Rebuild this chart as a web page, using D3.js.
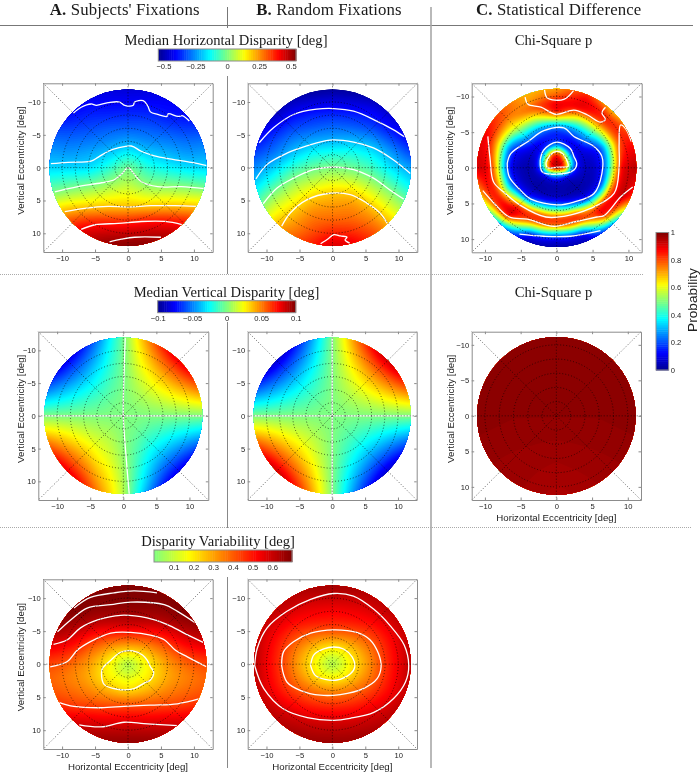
<!DOCTYPE html>
<html>
<head>
<meta charset="utf-8">
<script src="https://d3js.org/d3.v7.min.js"></script>
<style>
html, body { margin: 0; padding: 0; background: #fff; }
svg { display: block; filter: blur(0.35px); }
</style>
</head>
<body>
<svg id="chart" width="700" height="772"></svg>
<script>
// tick labels
var axisTicks = [-10, -5, 0, 5, 10];
var hBarTicks = [-0.5, -0.25, 0, 0.25, 0.5];
var vBarTicks = [-0.1, -0.05, 0, 0.05, 0.1];
var sBarTicks = [0.1, 0.2, 0.3, 0.4, 0.5, 0.6];
var pBarTicks = [0, 0.2, 0.4, 0.6, 0.8, 1];
var ringRadii = [2, 4, 6, 8, 10];
var spokeAngles = [0, 45, 90, 135];

// grid positions of the read-off maps, in deg
var step3 = [-12, -9, -6, -3, 0, 3, 6, 9, 12];
var step2 = [-12, -10, -8, -6, -4, -2, 0, 2, 4, 6, 8, 10, 12];
var chiRadii = [0, 1, 2, 3, 4, 5, 6, 7, 8, 9, 10, 11, 12];

// median horizontal disparity, one array per column of step3, rows are step2
var hSubjects = [
  [-.45,-.43,-.41,-.34,-.28,-.23,-.18,-.09,0,.13,.27,.41,.5],
  [-.45,-.42,-.4,-.34,-.29,-.24,-.18,-.07,.04,.18,.32,.43,.5],
  [-.45,-.41,-.37,-.33,-.28,-.22,-.18,-.05,.07,.19,.36,.46,.5],
  [-.45,-.41,-.37,-.31,-.26,-.19,-.1,0,.1,.2,.36,.47,.53],
  [-.46,-.41,-.36,-.31,-.23,-.12,0,.05,.12,.2,.36,.47,.54],
  [-.45,-.41,-.36,-.31,-.26,-.18,-.1,-.02,.08,.2,.39,.48,.54],
  [-.45,-.41,-.39,-.33,-.27,-.21,-.14,-.03,.08,.21,.39,.48,.53],
  [-.45,-.42,-.4,-.35,-.29,-.24,-.17,-.05,.07,.21,.37,.46,.52],
  [-.45,-.42,-.39,-.34,-.28,-.23,-.18,-.08,.05,.2,.33,.44,.51]
];
var hRandom = [
  [-.56,-.54,-.5,-.46,-.41,-.33,-.27,-.21,-.13,-.04,.05,.15,.25],
  [-.58,-.54,-.49,-.4,-.33,-.28,-.19,-.1,.01,.09,.17,.27,.37],
  [-.55,-.48,-.4,-.33,-.26,-.19,-.08,.02,.09,.17,.23,.28,.35],
  [-.54,-.45,-.37,-.31,-.22,-.12,-.02,.06,.17,.24,.29,.33,.39],
  [-.53,-.44,-.36,-.29,-.21,-.1,0,.1,.2,.25,.3,.38,.46],
  [-.54,-.45,-.37,-.3,-.2,-.1,-.02,.08,.2,.26,.3,.37,.44],
  [-.55,-.47,-.39,-.33,-.23,-.14,-.07,.02,.11,.2,.27,.33,.38],
  [-.57,-.52,-.46,-.4,-.32,-.23,-.17,-.08,.02,.09,.18,.26,.33],
  [-.58,-.55,-.5,-.46,-.41,-.33,-.24,-.18,-.1,0,.07,.14,.25]
];

// median vertical disparity, one array per column of step2, rows are step2
var vSubjects = [
  [-.1,-.1,-.1,-.079,-.053,-.026,0,.026,.053,.079,.1,.1,.1],
  [-.1,-.1,-.088,-.066,-.044,-.022,0,.022,.044,.066,.088,.1,.1],
  [-.1,-.088,-.07,-.053,-.035,-.018,0,.018,.035,.053,.07,.088,.1],
  [-.079,-.066,-.053,-.04,-.026,-.013,0,.013,.026,.04,.053,.066,.079],
  [-.053,-.044,-.035,-.026,-.018,-.009,0,.009,.018,.026,.035,.044,.053],
  [-.026,-.022,-.018,-.013,-.009,-.004,0,.006,.012,.017,.023,.028,.032],
  [-.003,-.003,-.002,-.002,-.001,0,0,.001,.002,.004,.007,.01,.012],
  [.026,.022,.018,.013,.009,.004,0,-.003,-.007,-.01,-.013,-.016,-.02],
  [.053,.044,.035,.026,.018,.009,0,-.009,-.018,-.026,-.033,-.04,-.05],
  [.079,.066,.053,.04,.026,.013,0,-.013,-.026,-.04,-.053,-.066,-.079],
  [.1,.088,.07,.053,.035,.018,0,-.018,-.035,-.053,-.07,-.088,-.1],
  [.1,.1,.088,.066,.044,.022,0,-.022,-.044,-.066,-.088,-.1,-.1],
  [.1,.1,.1,.079,.053,.026,0,-.026,-.053,-.079,-.1,-.1,-.1]
];
var vRandom = [
  [-.1,-.1,-.1,-.085,-.057,-.028,0,.028,.057,.085,.1,.1,.1],
  [-.1,-.1,-.095,-.071,-.048,-.024,0,.024,.048,.071,.095,.1,.1],
  [-.1,-.095,-.076,-.057,-.038,-.019,0,.019,.038,.057,.076,.095,.1],
  [-.085,-.071,-.057,-.043,-.028,-.014,0,.014,.028,.043,.057,.071,.085],
  [-.057,-.048,-.038,-.028,-.019,-.01,0,.01,.019,.028,.038,.048,.057],
  [-.028,-.024,-.019,-.014,-.01,-.005,0,.005,.01,.014,.019,.024,.028],
  [0,0,0,0,0,0,0,0,0,0,0,0,0],
  [.028,.024,.019,.014,.01,.005,0,-.005,-.01,-.014,-.019,-.024,-.028],
  [.057,.048,.038,.028,.019,.01,0,-.01,-.019,-.028,-.038,-.048,-.057],
  [.085,.071,.057,.043,.028,.014,0,-.014,-.028,-.043,-.057,-.071,-.085],
  [.1,.095,.076,.057,.038,.019,0,-.019,-.038,-.057,-.076,-.095,-.1],
  [.1,.1,.095,.071,.048,.024,0,-.024,-.048,-.071,-.095,-.1,-.1],
  [.1,.1,.1,.085,.057,.028,0,-.028,-.057,-.085,-.1,-.1,-.1]
];

// disparity variability, one array per column of step2, rows are step2
var sSubjects = [
  [.7,.7,.7,.68,.62,.52,.43,.39,.41,.47,.56,.66,.7],
  [.7,.7,.7,.67,.6,.5,.41,.36,.39,.45,.55,.65,.7],
  [.7,.7,.7,.65,.56,.46,.36,.33,.37,.43,.54,.63,.69],
  [.7,.7,.68,.62,.5,.38,.31,.29,.34,.42,.54,.62,.68],
  [.7,.7,.67,.6,.45,.32,.22,.21,.3,.41,.53,.62,.68],
  [.7,.7,.67,.6,.43,.24,.13,.17,.25,.41,.53,.62,.68],
  [.7,.7,.67,.6,.42,.22,.02,.13,.21,.41,.53,.62,.68],
  [.7,.7,.67,.6,.43,.24,.13,.17,.25,.41,.53,.62,.68],
  [.7,.7,.67,.6,.45,.32,.22,.22,.3,.41,.53,.62,.68],
  [.7,.7,.68,.62,.5,.38,.31,.29,.34,.42,.54,.62,.68],
  [.7,.7,.7,.65,.56,.46,.36,.33,.37,.43,.54,.63,.69],
  [.7,.7,.7,.67,.6,.5,.41,.36,.39,.45,.55,.65,.7],
  [.7,.7,.7,.68,.62,.52,.43,.39,.41,.47,.56,.66,.7]
];
var sRandom = [
  [.7,.68,.66,.64,.63,.63,.63,.63,.63,.64,.66,.67,.68],
  [.69,.66,.63,.6,.56,.55,.54,.55,.56,.6,.64,.66,.68],
  [.68,.64,.6,.55,.5,.47,.46,.47,.5,.56,.61,.65,.68],
  [.67,.62,.57,.51,.43,.37,.34,.37,.44,.52,.59,.64,.68],
  [.66,.6,.55,.49,.38,.28,.24,.29,.39,.48,.57,.63,.67],
  [.66,.6,.54,.48,.34,.2,.13,.2,.35,.46,.56,.62,.67],
  [.66,.6,.53,.48,.33,.14,.02,.17,.33,.45,.56,.62,.67],
  [.66,.6,.54,.48,.34,.2,.13,.2,.35,.46,.56,.62,.67],
  [.66,.6,.55,.49,.38,.28,.24,.29,.39,.48,.57,.63,.67],
  [.67,.62,.57,.51,.43,.37,.34,.37,.44,.52,.59,.64,.68],
  [.68,.64,.6,.55,.5,.47,.46,.47,.5,.56,.61,.65,.68],
  [.69,.66,.63,.6,.56,.55,.54,.55,.56,.6,.64,.66,.68],
  [.7,.68,.66,.64,.63,.63,.63,.63,.63,.64,.66,.67,.68]
];

// chi-square p on rings: one array per 22.5 deg, clockwise from +x, over chiRadii
var chiHorizontal = [
  [.95,.9,.3,.1,.05,.05,.1,.3,.6,.9,.92,.95,.95],
  [.95,.8,.15,.06,.04,.04,.08,.3,.75,.9,.95,.85,.8],
  [.95,.35,.05,.03,.02,.04,.12,.5,.85,.92,.7,.3,.15],
  [.95,.3,.05,.03,.03,.1,.4,.82,.85,.45,.12,.05,.03],
  [.95,.3,.05,.03,.05,.18,.5,.82,.82,.4,.1,.03,.02],
  [.95,.3,.05,.03,.03,.15,.45,.82,.85,.5,.15,.05,.03],
  [.95,.4,.06,.03,.02,.08,.2,.7,.9,.95,.75,.35,.2],
  [.95,.65,.1,.04,.03,.05,.12,.3,.6,.85,.85,.7,.6],
  [.95,.9,.3,.05,.03,.04,.07,.2,.55,.82,.92,.92,.9],
  [.95,.9,.4,.08,.05,.08,.12,.22,.45,.7,.85,.9,.9],
  [.95,.93,.55,.14,.08,.18,.3,.45,.6,.7,.78,.8,.8],
  [.95,.95,.8,.2,.12,.18,.3,.5,.68,.8,.72,.7,.7],
  [.95,.95,.87,.3,.15,.15,.3,.65,.9,.9,.8,.72,.7],
  [.95,.95,.75,.2,.1,.18,.3,.5,.7,.9,.9,.85,.8],
  [.95,.93,.5,.14,.08,.2,.3,.45,.65,.82,.85,.7,.6],
  [.95,.9,.45,.1,.07,.08,.12,.25,.5,.75,.85,.85,.8]
];
// rows and columns of coarseStep
var coarseStep = [-12, -6, 0, 6, 12];
var chiVertical = [
  [.99,.99,.99,.98,.975],
  [.99,.99,.985,.975,.97],
  [.99,.99,.985,.97,.955],
  [.99,.99,.985,.975,.965],
  [.99,.99,.99,.98,.975]
];

// white contour lines, [x, y] in deg
var hSubjectsLines = [
  [[-8.3,-8.3],[-7.1,-9.2],[-5.6,-9.7],[-4.8,-9.5],[-3,-9.9],[-1.3,-10],[-.5,-9.5],[.8,-9.5],[1,-10],[2.3,-10.2],[3,-9.4],[3.4,-8.5],[4.5,-8.1],[5.9,-7.8],[6.1,-8.2],[7.6,-7.8],[8.3,-7.9],[9.3,-7.1]],
  [[-11.7,-.6],[-9.1,-.8],[-5.6,-1],[-4.5,-1.6],[-3,-2.5],[-1.5,-3],[.5,-3.3],[2,-2.5],[4,-1.8],[6.6,-1.3],[9.6,-.8],[12,-.3]],
  [[-11.1,3.7],[-7.6,2.9],[-4,2.3],[-2,1.8],[-.8,.8],[0,0],[.8,.8],[2,2.1],[4.5,2.9],[8.1,2.9],[11.6,3.2]],
  [[-9.6,6.7],[-6.6,6.2],[-3,5.9],[0,6],[3.5,5.8],[7.1,5.8],[10.4,5.9]],
  [[-7.1,9.4],[-5,8.7],[-1.5,8.5],[2,8.2],[5.6,8.2],[8.3,8.7]],
  [[-2.8,11.3],[-1,10.9],[1,10.6],[5,10.6]]
];
var hRandomLines = [
  [[-11.1,-3.8],[-8.9,-6.1],[-5.9,-8.1],[-2.4,-8.9],[.2,-9],[3.2,-8.6],[6.7,-7.1],[9.2,-5.8],[10.9,-4.7]],
  [[-11.6,1.7],[-9.9,-.5],[-6.9,-2.2],[-3.9,-3.3],[-.4,-4.2],[3.2,-3.9],[6.2,-3],[9.2,-1.2],[11.8,.9]],
  [[-10.5,5.5],[-8.4,3.1],[-5.9,1.6],[-2.9,.3],[.2,-.1],[3.2,.3],[6.2,1.6],[8.7,3.4],[10.8,4.8]],
  [[-7.7,8.9],[-6.4,6.9],[-3.9,4.9],[-.4,3.9],[2.7,4.1],[5.2,5.4],[7.2,6.9],[8.3,8.5]],
  [[-1.8,11.6],[-.6,10.8],[.2,10.2],[1.2,10.4],[2.2,10.6],[1.9,11],[2.6,11.5]]
];
var vSubjectsLines = [
  [[.3,-12],[.1,-6],[0,0],[.4,6],[.9,12]],
  [[-12,0],[12,0]]
];
var vRandomLines = [
  [[0,-12],[0,12]],
  [[-12,0],[12,0]]
];
var sSubjectsLines = [
  [[-4,1.9],[-3.9,.7],[-2.6,-.6],[-1.1,-1.8],[.7,-2],[2.2,-1.4],[2.9,-.6],[3.4,.4],[3.9,1.2],[3.4,2.4],[2.4,2.9],[.9,3.7],[-1.6,3.8],[-3.6,3.1],[-4,1.9]],
  [[-11.8,.4],[-9.2,-.4],[-7.7,-2.1],[-5.7,-3.4],[-2.6,-4.7],[.4,-4.8],[3.4,-4.4],[5.5,-3.7],[7.2,-2.1],[9,-1.1],[11.9,.4]],
  [[-11.3,-3],[-9.2,-3.7],[-7.2,-5.5],[-4.6,-6.7],[-1.1,-7.4],[2.9,-7],[6,-6],[8.5,-4.7],[11.4,-3.3]],
  [[-10.7,-4.9],[-8.7,-6.7],[-6.2,-8.5],[-2.6,-9],[.4,-9.4],[5.5,-9],[7.5,-8],[10.3,-6.2]],
  [[-8.2,-8.5],[-5.7,-10.1],[-2.1,-10.8],[.9,-11.1],[4.4,-10.8]],
  [[-10.7,5.7],[-8.2,6.4],[-4.1,6.6],[-.6,6.4],[3.4,6.2],[7.5,6],[11,5.2]],
  [[-7.4,9.2],[-4.1,9.5],[-.6,8.8],[2.4,9],[5.5,9.2],[7.5,9.3]]
];
var sRandomLines = [
  [[-11.8,.2],[-11.4,-2.4],[-9.9,-5.5],[-6.9,-8],[-3.3,-9.8],[.2,-10.7],[3.2,-10.3],[6.3,-8.3],[8.8,-5.8],[10.9,-2.9],[11.6,.2],[11.1,2.7],[9.3,5.2],[6.3,7.3],[2.7,8.2],[.2,8.5],[-3.8,8.1],[-7.4,6.8],[-10.4,3.7],[-11.8,.2]],
  [[-7.7,.2],[-7.4,-1.9],[-5.9,-3.4],[-3.3,-4.7],[.2,-5.2],[3.7,-4.8],[5.7,-3.7],[7,-1.6],[7.4,.4],[6.8,2.2],[4.7,3.7],[1.2,4.6],[-1.8,4.7],[-4.8,4],[-6.9,2.7],[-7.7,.2]],
  [[-3.3,.2],[-2.8,-1.4],[-1.3,-2.3],[.2,-2.6],[1.7,-2.3],[3,-1.1],[3.4,.4],[2.7,1.5],[.7,2.4],[-1.1,2.3],[-2.6,1.7],[-3.3,.2]]
];
var chiLines = [
  [[-1.5,-.7],[-.9,-1.8],[0,-2.3],[.8,-2],[1.5,-.8],[1.6,-.2],[.1,-.1],[-1.3,0],[-1.5,-.7]],
  [[-2.3,-1.1],[-1.8,-2.5],[0,-3.6],[1.9,-2.7],[2.4,-1.6],[2.8,-.6],[2.4,.3],[.1,.9],[-2,.6],[-2.3,-1.1]],
  [[-6.9,-.6],[-6.4,-2],[-4,-3.7],[-1.8,-5.2],[1,-5.6],[2.4,-4.4],[5.2,-3],[6.3,-1.6],[6.3,.8],[5.2,3.6],[2.4,4.8],[.1,5.2],[-3.6,4.4],[-5,3.2],[-6.6,1.3],[-6.9,-.6]],
  [[-9.6,-4.4],[-9.3,-1.4],[-8.8,2],[-7.4,3.4],[-5,5.3],[-1.5,6.9],[1,6.8],[4.7,5.7],[8,3.6],[8.7,-.1],[8.7,-3.3],[8.9,-6],[9.6,-5.5],[10.4,-3.7]],
  [[-10.3,3.2],[-8.7,5],[-6.6,6.9],[-4.1,7.2],[-.4,8.2],[2.4,7.6],[5.6,6.9],[6.6,6.7],[8.9,4.1],[10.6,2.7]],
  [[-5.2,9.3],[-1.8,9.6],[1.9,9.6],[6.1,8.8]],
  [[-4.4,-9.9],[-4,-8.9],[-2.2,-8.5],[-.1,-7.5],[2.4,-8.1],[4.3,-7.4],[6.1,-6.4],[6.8,-6.8],[6.3,-7.7],[6.8,-8.5]],
  [[-1.7,-11],[-1.3,-9.8],[1,-9.6],[2.4,-10.9]]
];

var svg = d3.select("#chart");
var GREY = "#8c8c8c";
var SERIF = "'Liberation Serif', serif";
var SANS = "'Liberation Sans', sans-serif";

// matlab jet, t in 0..1
var jet = d3.scaleLinear()
  .domain([0, .125, .375, .625, .875, 1])
  .range(["#00008f", "#0000ff", "#00ffff", "#ffff00", "#ff0000", "#800000"])
  .clamp(true);
function jetOver(lo, hi) {
  var t = d3.scaleLinear().domain([lo, hi]).range([0, 1]);
  return function(v) { return jet(t(v)); };
}
var hColor = jetOver(-.54, .54);
var vColor = jetOver(-.1, .1);
var sColor = jetOver(-.7, .7);
var pColor = jetOver(0, 1);

// locate v between the ticks of a sorted grid
function locate(grid, v) {
  var g = Math.max(grid[0], Math.min(grid[grid.length - 1], v));
  var i = Math.min(d3.bisectRight(grid, g) - 1, grid.length - 2);
  return [i, (g - grid[i]) / (grid[i + 1] - grid[i])];
}
function cartesian(field, cols, rows) {
  return function(x, y) {
    var a = locate(cols, x), b = locate(rows, y);
    var top = field[a[0]][b[0]] * (1 - a[1]) + field[a[0] + 1][b[0]] * a[1];
    var bot = field[a[0]][b[0] + 1] * (1 - a[1]) + field[a[0] + 1][b[0] + 1] * a[1];
    return top * (1 - b[1]) + bot * b[1];
  };
}
function polar(field, radii) {
  var n = field.length;
  return function(x, y) {
    var ang = (Math.atan2(y, x) + 2 * Math.PI) % (2 * Math.PI) / (2 * Math.PI) * n;
    var i = Math.floor(ang) % n, j = (i + 1) % n, f = ang - Math.floor(ang);
    var r = locate(radii, Math.sqrt(x * x + y * y));
    var v1 = field[i][r[0]] * (1 - r[1]) + field[i][r[0] + 1] * r[1];
    var v2 = field[j][r[0]] * (1 - r[1]) + field[j][r[0] + 1] * r[1];
    return v1 * (1 - f) + v2 * f;
  };
}

var SIZE = 170;

function panel(o) {
  var xs = d3.scaleLinear().domain([-o.lim, o.lim]).range([o.x0, o.x1]);
  var ys = d3.scaleLinear().domain([-o.lim, o.lim]).range([o.y0, o.y1]);
  var g = svg.append("g");
  var id = "clip" + Math.round(o.x0) + "_" + Math.round(o.y0);

  g.append("clipPath").attr("id", id).append("ellipse")
    .attr("cx", xs(0)).attr("cy", ys(0))
    .attr("rx", xs(o.radius) - xs(0)).attr("ry", ys(o.radius) - ys(0));

  // map shading from nested contour bands
  var values = new Float64Array(SIZE * SIZE);
  var toDeg = d3.scaleLinear().domain([0, SIZE]).range([-o.lim, o.lim]);
  for (var j = 0; j < SIZE; j++) {
    for (var i = 0; i < SIZE; i++) {
      values[j * SIZE + i] = o.sample(toDeg(i + .5), toDeg(j + .5));
    }
  }
  if (d3.blur2) d3.blur2({data: values, width: SIZE, height: SIZE}, o.soft || 2);
  var nBands = 128;
  var bands = d3.range(nBands).map(function(k) { return o.lo + (o.hi - o.lo) * k / nBands; });
  var path = d3.geoPath(d3.geoTransform({
    point: function(x, y) { this.stream.point(xs(toDeg(x)), ys(toDeg(y))); }
  }));
  var map = g.append("g").attr("clip-path", "url(#" + id + ")");
  map.append("rect").attr("x", o.x0).attr("y", o.y0)
    .attr("width", o.x1 - o.x0).attr("height", o.y1 - o.y0)
    .attr("fill", o.color(o.lo));
  map.selectAll("path.band")
    .data(d3.contours().size([SIZE, SIZE]).thresholds(bands)(values))
    .enter().append("path").attr("class", "band")
    .attr("d", path)
    .attr("fill", function(d) { return o.color(d.value + (o.hi - o.lo) / (2 * nBands)); });

  // white contours
  var line = d3.line().curve(d3.curveCatmullRom)
    .x(function(d) { return xs(d[0]); }).y(function(d) { return ys(d[1]); });
  map.selectAll("path.iso").data(o.lines).enter().append("path").attr("class", "iso")
    .attr("d", line).attr("fill", "none").attr("stroke", "#fff").attr("stroke-width", 1.3);

  // dotted polar grid
  var dots = g.append("g").attr("fill", "none").attr("stroke", "#000")
    .attr("stroke-opacity", .62).attr("stroke-width", 1).attr("stroke-dasharray", "1 2");
  dots.selectAll("ellipse").data(ringRadii).enter().append("ellipse")
    .attr("cx", xs(0)).attr("cy", ys(0))
    .attr("rx", function(d) { return xs(d) - xs(0); })
    .attr("ry", function(d) { return ys(d) - ys(0); });
  function edge(d, sign, fn) {
    var c = Math.cos(d * Math.PI / 180), s = Math.sin(d * Math.PI / 180);
    return sign * o.lim * fn(c, s) / Math.max(Math.abs(c), Math.abs(s));
  }
  function pickX(c, s) { return c; }
  function pickY(c, s) { return s; }
  dots.selectAll("line").data(spokeAngles).enter().append("line")
    .attr("x1", function(d) { return xs(edge(d, -1, pickX)); })
    .attr("y1", function(d) { return ys(edge(d, -1, pickY)); })
    .attr("x2", function(d) { return xs(edge(d, 1, pickX)); })
    .attr("y2", function(d) { return ys(edge(d, 1, pickY)); });

  // frame and ticks, matlab style on all four sides
  var h = o.y1 - o.y0, w = o.x1 - o.x0;
  function style(sel, labels) {
    sel.selectAll("path.domain").attr("stroke", GREY);
    sel.selectAll(".tick line").attr("stroke", GREY);
    sel.selectAll("text").attr("font-family", SANS).attr("font-size", 7.6).attr("fill", "#222");
    if (!labels) sel.selectAll("text").remove();
  }
  g.append("g").attr("transform", "translate(0," + o.y1 + ")")
    .call(d3.axisBottom(xs).tickValues(axisTicks).tickSizeInner(-2.5).tickSizeOuter(0).tickPadding(3.5))
    .call(style, true);
  g.append("g").attr("transform", "translate(0," + o.y0 + ")")
    .call(d3.axisTop(xs).tickValues(axisTicks).tickSizeInner(-2.5).tickSizeOuter(0))
    .call(style, false);
  g.append("g").attr("transform", "translate(" + o.x0 + ",0)")
    .call(d3.axisLeft(ys).tickValues(axisTicks).tickSizeInner(-2.5).tickSizeOuter(0).tickPadding(2.5))
    .call(style, true);
  g.append("g").attr("transform", "translate(" + o.x1 + ",0)")
    .call(d3.axisRight(ys).tickValues(axisTicks).tickSizeInner(-2.5).tickSizeOuter(0))
    .call(style, false);

  if (o.yLabel) {
    g.append("text").text("Vertical Eccentricity [deg]")
      .attr("transform", "translate(" + o.yLabelX + "," + (o.y0 + h / 2 - 7) + ") rotate(-90)")
      .attr("text-anchor", "middle").attr("dy", ".35em")
      .attr("font-family", SANS).attr("font-size", 9.7).attr("fill", "#222");
  }
  if (o.xLabel) {
    g.append("text").text("Horizontal Eccentricity [deg]")
      .attr("x", o.x0 + w / 2).attr("y", o.y1 + 17.5).attr("dy", ".35em")
      .attr("text-anchor", "middle")
      .attr("font-family", SANS).attr("font-size", 9.7).attr("fill", "#222");
  }
}

function hBar(x0, x1, y0, y1, lo, hi, color, ticks, fmt) {
  var sc = d3.scaleLinear().domain([lo, hi]).range([x0, x1]);
  var g = svg.append("g");
  g.selectAll("rect").data(d3.range(64)).enter().append("rect")
    .attr("x", function(k) { return sc(lo + (hi - lo) * k / 64); })
    .attr("y", y0).attr("height", y1 - y0)
    .attr("width", (x1 - x0) / 64 + .5)
    .attr("fill", function(k) { return color(lo + (hi - lo) * (k + .5) / 64); });
  g.append("rect").attr("x", x0).attr("y", y0).attr("width", x1 - x0).attr("height", y1 - y0)
    .attr("fill", "none").attr("stroke", GREY);
  var ax = g.append("g").attr("transform", "translate(0," + y1 + ")")
    .call(d3.axisBottom(sc).tickValues(ticks).tickFormat(fmt).tickSize(0).tickPadding(3));
  ax.select("path.domain").remove();
  ax.selectAll("text").attr("font-family", SANS).attr("font-size", 7.6).attr("fill", "#222");
}

function title(txt, x, y, size) {
  svg.append("text").text(txt).attr("x", x).attr("y", y)
    .attr("text-anchor", "middle").attr("font-family", SERIF)
    .attr("font-size", size).attr("fill", "#1a1a1a");
}
function header(bold, rest, x, y) {
  var t = svg.append("text").attr("x", x).attr("y", y)
    .attr("text-anchor", "middle").attr("font-family", SERIF)
    .attr("font-size", 16.8).attr("letter-spacing", .12).attr("fill", "#1a1a1a");
  t.append("tspan").attr("font-weight", "bold").text(bold);
  t.append("tspan").text(" " + rest);
}

// page furniture
function rule(x1, y1, x2, y2, dotted, wid, col) {
  svg.append("line").attr("x1", x1).attr("y1", y1).attr("x2", x2).attr("y2", y2)
    .attr("stroke", col || "#777").attr("stroke-width", wid || 1)
    .attr("stroke-dasharray", dotted ? "1 1" : null);
}
rule(0, 25.5, 693, 25.5);
rule(227.5, 7, 227.5, 28);
rule(227.5, 76, 227.5, 274, false, 1, "#888");
rule(227.5, 322, 227.5, 528, false, 1, "#888");
rule(227.5, 577, 227.5, 768, false, 1, "#888");
rule(431, 7, 431, 768, false, 1.6, "#a8a8a8");
rule(0, 274.5, 643, 274.5, true, 1, "#aaa");
rule(0, 527.5, 692, 527.5, true, 1, "#aaa");

header("A.", "Subjects' Fixations", 124.7, 15);
header("B.", "Random Fixations", 329, 15);
header("C.", "Statistical Difference", 558.7, 15);
title("Median Horizontal Disparity [deg]", 226, 44.5, 14.6);
title("Median Vertical Disparity [deg]", 226.5, 296.5, 14.6);
title("Disparity Variability [deg]", 218, 546, 14.6);
title("Chi-Square p", 553.5, 44.5, 14.6);
title("Chi-Square p", 553.5, 296.5, 14.6);

hBar(158.3, 296, 49, 61, -.54, .54, hColor, hBarTicks, d3.format(".3~f"));
hBar(157.7, 295.7, 300.7, 312.7, -.1, .1, vColor, vBarTicks, d3.format(".3~f"));
hBar(154, 292, 550, 562, 0, .7, sColor, sBarTicks, d3.format(".1f"));

// row 1
panel({x0: 43.3, x1: 212.7, y0: 83.3, y1: 252, lim: 12.85, radius: 11.9, lo: -.54, hi: .54, color: hColor, soft: 4,
  sample: cartesian(hSubjects, step3, step2), lines: hSubjectsLines, yLabel: true, yLabelX: 21});
panel({x0: 247.7, x1: 417.3, y0: 83.3, y1: 252, lim: 12.85, radius: 11.9, lo: -.54, hi: .54, color: hColor, soft: 4,
  sample: cartesian(hRandom, step3, step2), lines: hRandomLines});
panel({x0: 471.7, x1: 641.7, y0: 83.3, y1: 252.3, lim: 11.85, radius: 11.1, lo: 0, hi: 1, color: pColor,
  sample: polar(chiHorizontal, chiRadii), lines: chiLines, yLabel: true, yLabelX: 449.5});

// row 2
panel({x0: 38.3, x1: 208.3, y0: 331.7, y1: 500, lim: 12.85, radius: 11.95, lo: -.1, hi: .1, color: vColor, soft: 3,
  sample: cartesian(vSubjects, step2, step2), lines: vSubjectsLines, yLabel: true, yLabelX: 21});
panel({x0: 247.7, x1: 416.7, y0: 331.7, y1: 500, lim: 12.85, radius: 11.95, lo: -.1, hi: .1, color: vColor, soft: 3,
  sample: cartesian(vRandom, step2, step2), lines: vRandomLines});
panel({x0: 471.7, x1: 641, y0: 331.7, y1: 500, lim: 11.85, radius: 11.1, lo: 0, hi: 1, color: pColor,
  sample: cartesian(chiVertical, coarseStep, coarseStep), lines: [], yLabel: true, yLabelX: 450.5, xLabel: true});

// row 3
panel({x0: 43.3, x1: 212.7, y0: 579.3, y1: 749, lim: 12.85, radius: 11.9, lo: 0, hi: .7, color: sColor, soft: 4,
  sample: cartesian(sSubjects, step2, step2), lines: sSubjectsLines, yLabel: true, yLabelX: 21, xLabel: true});
panel({x0: 247.7, x1: 417, y0: 579.3, y1: 749, lim: 12.85, radius: 11.9, lo: 0, hi: .7, color: sColor, soft: 4,
  sample: cartesian(sRandom, step2, step2), lines: sRandomLines, xLabel: true});

// probability bar
var pScale = d3.scaleLinear().domain([0, 1]).range([370, 232.5]);
var pBar = svg.append("g");
pBar.selectAll("rect").data(d3.range(64)).enter().append("rect")
  .attr("x", 656).attr("width", 12.7)
  .attr("y", function(k) { return pScale((k + 1) / 64); })
  .attr("height", (370 - 232.5) / 64 + .5)
  .attr("fill", function(k) { return pColor((k + .5) / 64); });
pBar.append("rect").attr("x", 656).attr("y", 232.5).attr("width", 12.7).attr("height", 137.5)
  .attr("fill", "none").attr("stroke", GREY);
var pAxis = pBar.append("g").attr("transform", "translate(668.7,0)")
  .call(d3.axisRight(pScale).tickValues(pBarTicks).tickFormat(d3.format("~g")).tickSize(0).tickPadding(2));
pAxis.select("path.domain").remove();
pAxis.selectAll("text").attr("font-family", SANS).attr("font-size", 7.6).attr("fill", "#222");
svg.append("text").text("Probability")
  .attr("transform", "translate(692,300) rotate(-90)").attr("text-anchor", "middle")
  .attr("dy", ".35em").attr("font-family", SANS).attr("font-size", 13.7).attr("fill", "#222");
</script>
</body>
</html>
